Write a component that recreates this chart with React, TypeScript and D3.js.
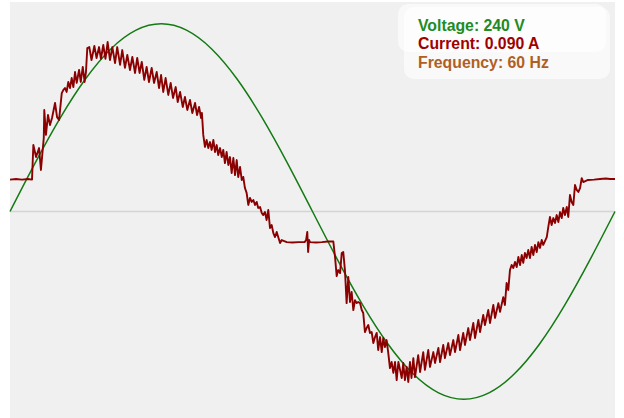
import { useEffect, useRef } from "react";
import * as d3 from "d3";

// phase in degrees over one mains cycle, values normalised to the voltage peak
const voltagePhase = [0, 15, 30, 45, 60, 75, 90, 105, 120, 135, 150, 165, 180, 195, 210, 225, 240, 255, 270, 285, 300, 315, 330, 345, 360];
const voltageValue = [0, 0.259, 0.5, 0.707, 0.866, 0.966, 1, 0.966, 0.866, 0.707, 0.5, 0.259, 0, -0.259, -0.5, -0.707, -0.866, -0.966, -1, -0.966, -0.866, -0.707, -0.5, -0.259, 0];

const currentPhase = [
  0, 3.6, 7.1, 10.7, 13.1,
  13.9, 15.5, 17.3, 18.4, 20.1, 20.4, 21.4, 22.6, 23.8, 25.0, 26.8, 28.0, 29.2, 30.8, 31.7, 32.7, 33.7, 34.7, 35.7, 36.7, 37.7, 38.7, 39.7, 41.1, 42.1, 43.3, 44.4, 45.2, 46.0,
  47.2, 48.5, 50.2, 51.5, 53.0, 54.1, 55.5, 56.8, 58.1, 59.5, 60.9, 62.5, 63.8, 65.5, 66.8, 68.4, 69.8, 71.4, 72.8, 74.4, 75.7, 77.1, 78.4, 79.9, 81.3, 82.7, 84.3, 85.7, 87.3, 88.7, 89.9, 91.2, 92.6, 94.2, 95.6, 97.0, 98.6, 99.8, 101.2, 102.8, 104.1, 105.5, 107.1, 108.5, 110.1, 111.3, 112.5, 113.7,
  114.2, 115.0, 116.0, 117.0, 118.0, 119.0, 120.0, 121.0, 122.0, 123.0, 123.9, 125.0, 126.0, 126.9, 127.9, 128.9, 129.9, 130.9, 131.9, 132.9, 133.9, 134.9, 135.8, 136.9, 137.9, 138.8, 139.8, 140.8, 141.8, 142.8, 143.8, 144.8, 145.8, 146.8, 147.7, 148.8, 149.8, 150.7, 151.7, 152.7, 153.7, 154.7, 155.7, 156.7, 157.7, 158.7, 159.6, 160.7, 161.7,
  164.7, 168.1, 171.7, 175.3, 176.2, 176.9, 177.4, 178.0, 178.5, 182.1, 185.6, 189.2, 192.4,
  193.4, 194.4, 195.3, 196.4, 197.4, 198.3, 199.3, 200.3, 201.3, 202.3, 203.3, 204.3, 205.3, 206.3, 207.2, 208.3, 209.3, 210.2, 211.2, 212.2, 213.2, 214.2, 215.2, 216.2, 217.2, 218.2, 219.1, 220.2, 221.2, 222.1, 223.1, 224.1, 225.1, 226.1, 227.1, 228.1, 229.1, 230.1, 231.1, 232.1, 233.1, 234.0, 235.0, 236.0, 237.0,
  238.0, 238.9, 240.0, 241.0, 242.9, 244.0, 245.9, 246.9, 248.9, 249.9, 251.9, 252.9, 254.9, 255.9, 257.8, 258.8, 260.8, 261.8, 263.8, 264.8, 266.8, 267.8, 269.7, 270.7, 272.7, 273.7, 275.7, 276.7, 278.7, 279.7, 281.6, 282.6, 284.6, 285.6, 287.6, 288.6, 290.6, 291.6, 293.5, 294.5, 295.5, 296.5,
  297.5, 298.5, 299.5, 300.5, 301.5, 302.5, 303.5, 304.5, 305.4, 306.4, 307.4, 308.4, 309.4, 310.4, 311.4, 312.4, 313.4, 314.4, 315.4, 316.4, 317.3, 319.4, 320.3, 321.3, 322.3, 323.3, 324.3, 325.3, 326.3, 327.3, 328.3, 329.2, 330.2, 331.3, 332.2, 333.2, 334.2, 335.2, 336.2, 337.2, 338.2, 339.2, 340.2, 341.1,
  343.9, 347.5, 351.1, 354.6, 357.0, 360,
];
const currentValue = [
  0.170, 0.173, 0.170, 0.173, 0.170,
  0.354, 0.290, 0.338, 0.221, 0.392, 0.541, 0.408, 0.514, 0.461, 0.498, 0.578, 0.503, 0.488, 0.631, 0.647, 0.658, 0.637, 0.690, 0.658, 0.711, 0.663, 0.743, 0.685, 0.754, 0.690, 0.770, 0.690, 0.743, 0.871,
  0.876, 0.807, 0.882, 0.818, 0.876, 0.813, 0.887, 0.813, 0.903, 0.807, 0.876, 0.791, 0.876, 0.781, 0.860, 0.765, 0.834, 0.754, 0.823, 0.738, 0.818, 0.738, 0.797, 0.701, 0.770, 0.690, 0.765, 0.685, 0.743, 0.658, 0.727, 0.637, 0.711, 0.621, 0.685, 0.605, 0.663, 0.583, 0.637, 0.557, 0.610, 0.541, 0.594, 0.525, 0.578, 0.514, 0.557, 0.498,
  0.525, 0.408, 0.344, 0.381, 0.338, 0.370, 0.328, 0.381, 0.317, 0.354, 0.301, 0.338, 0.290, 0.328, 0.258, 0.317, 0.248, 0.290, 0.205, 0.285, 0.194, 0.274, 0.184, 0.237, 0.168, 0.184, 0.125, 0.099, 0.035, 0.072, 0.051, 0.061, 0.035, 0.051, 0.019, 0.024, -0.008, -0.019, -0.003, -0.045, 0.008, -0.088, -0.072, -0.115, -0.136, -0.109, -0.136, -0.168, -0.152,
  -0.163, -0.165, -0.163, -0.163, -0.152, -0.109, -0.216, -0.152, -0.163, -0.165, -0.163, -0.160, -0.160,
  -0.242, -0.344, -0.312, -0.328, -0.221, -0.216, -0.312, -0.488, -0.349, -0.482, -0.429, -0.525, -0.472, -0.488, -0.482, -0.488, -0.525, -0.541, -0.642, -0.621, -0.605, -0.647, -0.642, -0.701, -0.669, -0.647, -0.738, -0.669, -0.749, -0.674, -0.722, -0.685, -0.754, -0.834, -0.802, -0.860, -0.802, -0.898, -0.802, -0.844, -0.887, -0.807, -0.898, -0.828, -0.908,
  -0.802, -0.887, -0.781, -0.882, -0.765, -0.855, -0.749, -0.844, -0.738, -0.828, -0.749, -0.807, -0.727, -0.802, -0.711, -0.781, -0.701, -0.765, -0.685, -0.749, -0.658, -0.738, -0.647, -0.711, -0.621, -0.685, -0.594, -0.674, -0.578, -0.642, -0.551, -0.605, -0.525, -0.594, -0.498, -0.567, -0.488, -0.535, -0.456, -0.498, -0.381, -0.418,
  -0.312, -0.285, -0.301, -0.269, -0.296, -0.242, -0.285, -0.232, -0.274, -0.221, -0.248, -0.205, -0.248, -0.189, -0.232, -0.178, -0.216, -0.163, -0.194, -0.152, -0.178, -0.136, -0.083, -0.029, -0.072, -0.035, -0.061, -0.019, -0.056, -0.003, -0.035, 0.019, -0.019, 0.024, -0.029, 0.088, 0.051, 0.035, 0.141, 0.115, 0.104, 0.125, 0.178, 0.157,
  0.168, 0.170, 0.173, 0.176, 0.173, 0.173,
];

const legendLabels = ["Voltage: 240 V", "Current: 0.090 A", "Frequency: 60 Hz"];
const legendColors = ["#228b22", "#a00000", "#b0601e"];

export default function App() {
  const ref = useRef<SVGSVGElement>(null);

  useEffect(() => {
    if (!ref.current) return;
    const svg = d3.select(ref.current);
    svg.selectAll("*").remove();

    const width = 624;
    const height = 418;
    const left = 10;
    const right = 615;
    const mid = 211.5;
    const amp = 187.7;

    const x = d3.scaleLinear().domain([0, 360]).range([left, right]);
    const y = d3.scaleLinear().domain([-1, 1]).range([mid + amp, mid - amp]);

    svg.attr("viewBox", `0 0 ${width} ${height}`);

    svg.append("rect")
      .attr("x", left)
      .attr("y", 2)
      .attr("width", right - left)
      .attr("height", height - 2)
      .attr("fill", "#f0f0f0");

    svg.append("line")
      .attr("x1", x(0))
      .attr("x2", x(360))
      .attr("y1", y(0))
      .attr("y2", y(0))
      .attr("stroke", "#d4d4d4")
      .attr("stroke-width", 1.5);

    const vLine = d3
      .line<number>()
      .x((_, i) => x(voltagePhase[i]))
      .y((d) => y(d))
      .curve(d3.curveNatural);

    svg.append("path")
      .datum(voltageValue)
      .attr("fill", "none")
      .attr("stroke", "#137a13")
      .attr("stroke-width", 1.5)
      .attr("d", vLine);

    const iLine = d3
      .line<number>()
      .x((_, i) => x(currentPhase[i]))
      .y((d) => y(d));

    svg.append("path")
      .datum(currentValue)
      .attr("fill", "none")
      .attr("stroke", "#8b0000")
      .attr("stroke-width", 1.9)
      .attr("stroke-linejoin", "round")
      .attr("d", iLine);

    // legend boxes
    svg.append("rect")
      .attr("x", 404).attr("y", 7).attr("width", 206).attr("height", 72)
      .attr("rx", 10).attr("fill", "#fff").attr("fill-opacity", 0.6);
    svg.append("rect")
      .attr("x", 398).attr("y", 4).attr("width", 208).attr("height", 48)
      .attr("rx", 10).attr("fill", "#fff").attr("fill-opacity", 0.6);

    svg.selectAll(".legend")
      .data(legendLabels)
      .join("text")
      .attr("x", 418)
      .attr("y", (_, i) => 30.7 + i * 18.7)
      .attr("fill", (_, i) => legendColors[i])
      .attr("font-family", "'Liberation Sans', Arial, sans-serif")
      .attr("font-weight", "bold")
      .attr("font-size", "15.8px")
      .text((d) => d);
  }, []);

  return (
    <svg
      ref={ref}
      width={624}
      height={418}
      style={{ position: "absolute", left: 0, top: 0, display: "block" }}
    />
  );
}
